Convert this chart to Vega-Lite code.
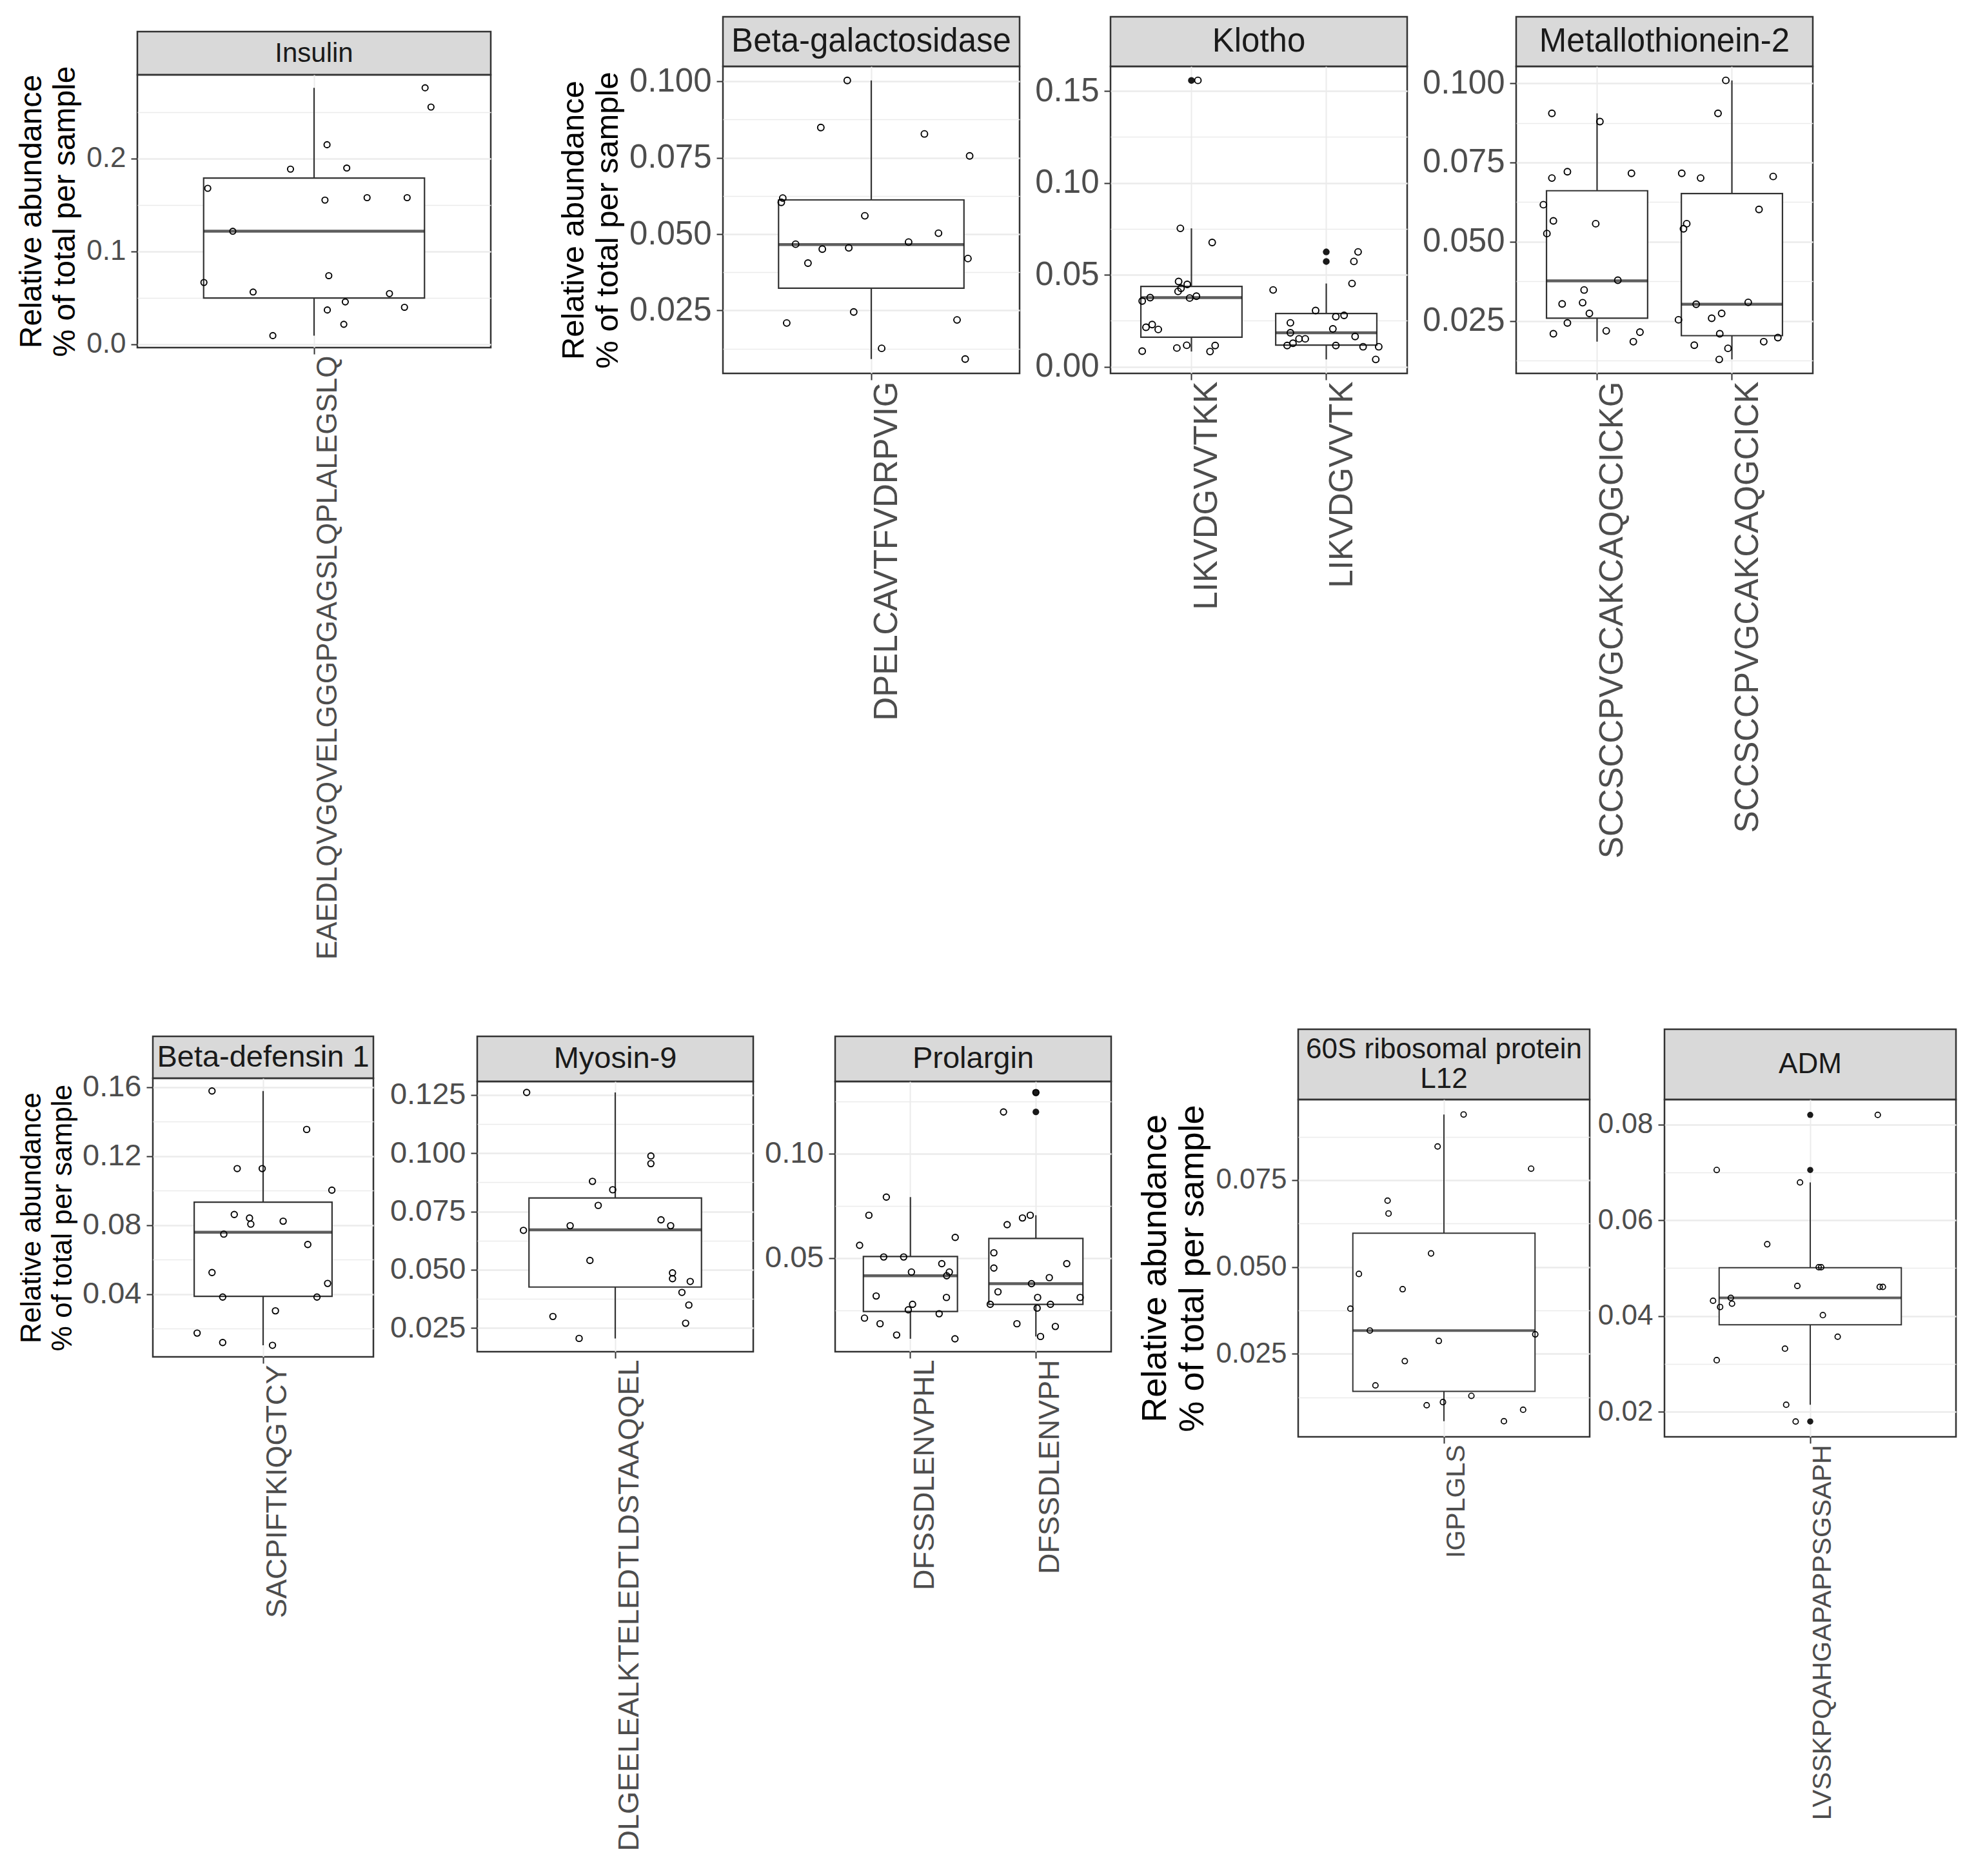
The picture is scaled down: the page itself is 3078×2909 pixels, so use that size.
{
"$schema":"https://vega.github.io/schema/vega-lite/v6.json",
"padding":{"left":5,"top":20,"right":5,"bottom":5},
"background":"#ffffff",
"config":{"font":"Liberation Sans","view":{"stroke":"#333333","strokeWidth":2.5},"axis":{"labelFont":"Liberation Sans","titleFont":"Liberation Sans"},"text":{"font":"Liberation Sans"}},
"datasets":{
"strips":[
{"p":"ins","label":"Insulin"},{"p":"bgal","label":"Beta-galactosidase"},{"p":"klo","label":"Klotho"},{"p":"met","label":"Metallothionein-2"},
{"p":"bdef","label":"Beta-defensin 1"},{"p":"myo","label":"Myosin-9"},{"p":"pro","label":"Prolargin"},{"p":"rib","label":"60S ribosomal protein\nL12"},{"p":"adm","label":"ADM"}],
"box":[
{"p":"ins","pep":"EAEDLQVGQVELGGGPGAGSLQPLALEGSLQ","lo":0.0094,"q1":0.0499,"med":0.1217,"q3":0.1789,"hi":0.276},
{"p":"bgal","pep":"DPELCAVTFVDRPVIG","lo":0.0091,"q1":0.0323,"med":0.0466,"q3":0.0612,"hi":0.1003},
{"p":"klo","pep":"LIKVDGVVTKK","lo":0.0083,"q1":0.0161,"med":0.0376,"q3":0.0437,"hi":0.0753},
{"p":"klo","pep":"LIKVDGVVTK","lo":0.0040,"q1":0.0118,"med":0.0185,"q3":0.0290,"hi":0.0453},
{"p":"met","pep":"SCCSCCPVGCAKCAQGCICKG","lo":0.0185,"q1":0.0259,"med":0.0377,"q3":0.0661,"hi":0.0905},
{"p":"met","pep":"SCCSCCPVGCAKCAQGCICK","lo":0.0129,"q1":0.0204,"med":0.0303,"q3":0.0652,"hi":0.1009},
{"p":"bdef","pep":"SACPIFTKIQGTCY","lo":0.0103,"q1":0.0387,"med":0.0759,"q3":0.0933,"hi":0.1578},
{"p":"myo","pep":"DLGEELEALKTELEDTLDSTAAQQEL","lo":0.0206,"q1":0.0426,"med":0.0671,"q3":0.0808,"hi":0.1260},
{"p":"pro","pep":"DFSSDLENVPHL","lo":0.0113,"q1":0.0244,"med":0.0415,"q3":0.0507,"hi":0.0792},
{"p":"pro","pep":"DFSSDLENVPH","lo":0.0124,"q1":0.0278,"med":0.0377,"q3":0.0594,"hi":0.0705},
{"p":"rib","pep":"IGPLGLS","lo":0.0056,"q1":0.0142,"med":0.0317,"q3":0.0597,"hi":0.0939},
{"p":"adm","pep":"LVSSKPQAHGAPAPPSGSAPH","lo":0.0215,"q1":0.0382,"med":0.0438,"q3":0.0501,"hi":0.0679}],
"out":[
{"p":"klo","pep":"LIKVDGVVTKK","v":0.1558},
{"p":"klo","pep":"LIKVDGVVTK","v":0.0625},
{"p":"klo","pep":"LIKVDGVVTK","v":0.0573},
{"p":"pro","pep":"DFSSDLENVPH","v":0.1293},
{"p":"pro","pep":"DFSSDLENVPH","v":0.1200},
{"p":"adm","pep":"LVSSKPQAHGAPAPPSGSAPH","v":0.0820},
{"p":"adm","pep":"LVSSKPQAHGAPAPPSGSAPH","v":0.0705},
{"p":"adm","pep":"LVSSKPQAHGAPAPPSGSAPH","v":0.0180}],
"pts":[
{"p":"ins","pep":"EAEDLQVGQVELGGGPGAGSLQPLALEGSLQ","v":0.276,"j":0.377},
{"p":"ins","pep":"EAEDLQVGQVELGGGPGAGSLQPLALEGSLQ","v":0.2553,"j":0.397},
{"p":"ins","pep":"EAEDLQVGQVELGGGPGAGSLQPLALEGSLQ","v":0.2148,"j":0.044},
{"p":"ins","pep":"EAEDLQVGQVELGGGPGAGSLQPLALEGSLQ","v":0.1885,"j":-0.080},
{"p":"ins","pep":"EAEDLQVGQVELGGGPGAGSLQPLALEGSLQ","v":0.1897,"j":0.111},
{"p":"ins","pep":"EAEDLQVGQVELGGGPGAGSLQPLALEGSLQ","v":0.1679,"j":-0.361},
{"p":"ins","pep":"EAEDLQVGQVELGGGPGAGSLQPLALEGSLQ","v":0.1552,"j":0.037},
{"p":"ins","pep":"EAEDLQVGQVELGGGPGAGSLQPLALEGSLQ","v":0.1578,"j":0.180},
{"p":"ins","pep":"EAEDLQVGQVELGGGPGAGSLQPLALEGSLQ","v":0.1578,"j":0.316},
{"p":"ins","pep":"EAEDLQVGQVELGGGPGAGSLQPLALEGSLQ","v":0.1217,"j":-0.276},
{"p":"ins","pep":"EAEDLQVGQVELGGGPGAGSLQPLALEGSLQ","v":0.0666,"j":-0.374},
{"p":"ins","pep":"EAEDLQVGQVELGGGPGAGSLQPLALEGSLQ","v":0.0739,"j":0.050},
{"p":"ins","pep":"EAEDLQVGQVELGGGPGAGSLQPLALEGSLQ","v":0.0563,"j":-0.207},
{"p":"ins","pep":"EAEDLQVGQVELGGGPGAGSLQPLALEGSLQ","v":0.0546,"j":0.256},
{"p":"ins","pep":"EAEDLQVGQVELGGGPGAGSLQPLALEGSLQ","v":0.0457,"j":0.106},
{"p":"ins","pep":"EAEDLQVGQVELGGGPGAGSLQPLALEGSLQ","v":0.0370,"j":0.045},
{"p":"ins","pep":"EAEDLQVGQVELGGGPGAGSLQPLALEGSLQ","v":0.0399,"j":0.307},
{"p":"ins","pep":"EAEDLQVGQVELGGGPGAGSLQPLALEGSLQ","v":0.0216,"j":0.101},
{"p":"ins","pep":"EAEDLQVGQVELGGGPGAGSLQPLALEGSLQ","v":0.0094,"j":-0.140},
{"p":"bgal","pep":"DPELCAVTFVDRPVIG","v":0.1003,"j":-0.097},
{"p":"bgal","pep":"DPELCAVTFVDRPVIG","v":0.0849,"j":-0.204},
{"p":"bgal","pep":"DPELCAVTFVDRPVIG","v":0.0828,"j":0.215},
{"p":"bgal","pep":"DPELCAVTFVDRPVIG","v":0.0756,"j":0.398},
{"p":"bgal","pep":"DPELCAVTFVDRPVIG","v":0.0618,"j":-0.358},
{"p":"bgal","pep":"DPELCAVTFVDRPVIG","v":0.0604,"j":-0.364},
{"p":"bgal","pep":"DPELCAVTFVDRPVIG","v":0.0560,"j":-0.026},
{"p":"bgal","pep":"DPELCAVTFVDRPVIG","v":0.0503,"j":0.272},
{"p":"bgal","pep":"DPELCAVTFVDRPVIG","v":0.0467,"j":-0.306},
{"p":"bgal","pep":"DPELCAVTFVDRPVIG","v":0.0474,"j":0.151},
{"p":"bgal","pep":"DPELCAVTFVDRPVIG","v":0.0451,"j":-0.198},
{"p":"bgal","pep":"DPELCAVTFVDRPVIG","v":0.0455,"j":-0.091},
{"p":"bgal","pep":"DPELCAVTFVDRPVIG","v":0.0405,"j":-0.256},
{"p":"bgal","pep":"DPELCAVTFVDRPVIG","v":0.0420,"j":0.391},
{"p":"bgal","pep":"DPELCAVTFVDRPVIG","v":0.0245,"j":-0.071},
{"p":"bgal","pep":"DPELCAVTFVDRPVIG","v":0.0209,"j":-0.342},
{"p":"bgal","pep":"DPELCAVTFVDRPVIG","v":0.0219,"j":0.347},
{"p":"bgal","pep":"DPELCAVTFVDRPVIG","v":0.0126,"j":0.042},
{"p":"bgal","pep":"DPELCAVTFVDRPVIG","v":0.0091,"j":0.380},
{"p":"klo","pep":"LIKVDGVVTKK","v":0.1558,"j":0.048},
{"p":"klo","pep":"LIKVDGVVTKK","v":0.0753,"j":-0.082},
{"p":"klo","pep":"LIKVDGVVTKK","v":0.0676,"j":0.154},
{"p":"klo","pep":"LIKVDGVVTKK","v":0.0464,"j":-0.095},
{"p":"klo","pep":"LIKVDGVVTKK","v":0.0448,"j":-0.031},
{"p":"klo","pep":"LIKVDGVVTKK","v":0.0427,"j":-0.077},
{"p":"klo","pep":"LIKVDGVVTKK","v":0.0410,"j":-0.099},
{"p":"klo","pep":"LIKVDGVVTKK","v":0.0376,"j":-0.306},
{"p":"klo","pep":"LIKVDGVVTKK","v":0.0358,"j":-0.365},
{"p":"klo","pep":"LIKVDGVVTKK","v":0.0374,"j":-0.013},
{"p":"klo","pep":"LIKVDGVVTKK","v":0.0384,"j":0.037},
{"p":"klo","pep":"LIKVDGVVTKK","v":0.0215,"j":-0.337},
{"p":"klo","pep":"LIKVDGVVTKK","v":0.0230,"j":-0.291},
{"p":"klo","pep":"LIKVDGVVTKK","v":0.0203,"j":-0.246},
{"p":"klo","pep":"LIKVDGVVTKK","v":0.0102,"j":-0.108},
{"p":"klo","pep":"LIKVDGVVTKK","v":0.0117,"j":-0.035},
{"p":"klo","pep":"LIKVDGVVTKK","v":0.0085,"j":-0.365},
{"p":"klo","pep":"LIKVDGVVTKK","v":0.0083,"j":0.138},
{"p":"klo","pep":"LIKVDGVVTKK","v":0.0116,"j":0.176},
{"p":"klo","pep":"LIKVDGVVTK","v":0.0625,"j":0.236},
{"p":"klo","pep":"LIKVDGVVTK","v":0.0573,"j":0.205},
{"p":"klo","pep":"LIKVDGVVTK","v":0.0453,"j":0.191},
{"p":"klo","pep":"LIKVDGVVTK","v":0.0418,"j":-0.394},
{"p":"klo","pep":"LIKVDGVVTK","v":0.0306,"j":-0.079},
{"p":"klo","pep":"LIKVDGVVTK","v":0.0273,"j":0.071},
{"p":"klo","pep":"LIKVDGVVTK","v":0.0280,"j":0.132},
{"p":"klo","pep":"LIKVDGVVTK","v":0.0239,"j":-0.266},
{"p":"klo","pep":"LIKVDGVVTK","v":0.0206,"j":0.049},
{"p":"klo","pep":"LIKVDGVVTK","v":0.0185,"j":-0.266},
{"p":"klo","pep":"LIKVDGVVTK","v":0.0165,"j":0.214},
{"p":"klo","pep":"LIKVDGVVTK","v":0.0152,"j":-0.202},
{"p":"klo","pep":"LIKVDGVVTK","v":0.0152,"j":-0.156},
{"p":"klo","pep":"LIKVDGVVTK","v":0.0116,"j":-0.290},
{"p":"klo","pep":"LIKVDGVVTK","v":0.0128,"j":-0.247},
{"p":"klo","pep":"LIKVDGVVTK","v":0.0116,"j":0.071},
{"p":"klo","pep":"LIKVDGVVTK","v":0.0109,"j":0.273},
{"p":"klo","pep":"LIKVDGVVTK","v":0.0109,"j":0.389},
{"p":"klo","pep":"LIKVDGVVTK","v":0.0040,"j":0.367},
{"p":"met","pep":"SCCSCCPVGCAKCAQGCICKG","v":0.0905,"j":-0.335},
{"p":"met","pep":"SCCSCCPVGCAKCAQGCICKG","v":0.0879,"j":0.021},
{"p":"met","pep":"SCCSCCPVGCAKCAQGCICKG","v":0.0721,"j":-0.220},
{"p":"met","pep":"SCCSCCPVGCAKCAQGCICKG","v":0.0701,"j":-0.335},
{"p":"met","pep":"SCCSCCPVGCAKCAQGCICKG","v":0.0716,"j":0.255},
{"p":"met","pep":"SCCSCCPVGCAKCAQGCICKG","v":0.0617,"j":-0.398},
{"p":"met","pep":"SCCSCCPVGCAKCAQGCICKG","v":0.0566,"j":-0.324},
{"p":"met","pep":"SCCSCCPVGCAKCAQGCICKG","v":0.0557,"j":-0.010},
{"p":"met","pep":"SCCSCCPVGCAKCAQGCICKG","v":0.0526,"j":-0.372},
{"p":"met","pep":"SCCSCCPVGCAKCAQGCICKG","v":0.0379,"j":0.154},
{"p":"met","pep":"SCCSCCPVGCAKCAQGCICKG","v":0.0348,"j":-0.096},
{"p":"met","pep":"SCCSCCPVGCAKCAQGCICKG","v":0.0304,"j":-0.259},
{"p":"met","pep":"SCCSCCPVGCAKCAQGCICKG","v":0.0308,"j":-0.107},
{"p":"met","pep":"SCCSCCPVGCAKCAQGCICKG","v":0.0274,"j":-0.057},
{"p":"met","pep":"SCCSCCPVGCAKCAQGCICKG","v":0.0244,"j":-0.220},
{"p":"met","pep":"SCCSCCPVGCAKCAQGCICKG","v":0.0210,"j":-0.324},
{"p":"met","pep":"SCCSCCPVGCAKCAQGCICKG","v":0.0219,"j":0.068},
{"p":"met","pep":"SCCSCCPVGCAKCAQGCICKG","v":0.0185,"j":0.269},
{"p":"met","pep":"SCCSCCPVGCAKCAQGCICKG","v":0.0215,"j":0.318},
{"p":"met","pep":"SCCSCCPVGCAKCAQGCICK","v":0.1009,"j":-0.045},
{"p":"met","pep":"SCCSCCPVGCAKCAQGCICK","v":0.0905,"j":-0.103},
{"p":"met","pep":"SCCSCCPVGCAKCAQGCICK","v":0.0716,"j":-0.372},
{"p":"met","pep":"SCCSCCPVGCAKCAQGCICK","v":0.0701,"j":-0.232},
{"p":"met","pep":"SCCSCCPVGCAKCAQGCICK","v":0.0706,"j":0.306},
{"p":"met","pep":"SCCSCCPVGCAKCAQGCICK","v":0.0602,"j":0.201},
{"p":"met","pep":"SCCSCCPVGCAKCAQGCICK","v":0.0557,"j":-0.335},
{"p":"met","pep":"SCCSCCPVGCAKCAQGCICK","v":0.0541,"j":-0.359},
{"p":"met","pep":"SCCSCCPVGCAKCAQGCICK","v":0.0303,"j":-0.265},
{"p":"met","pep":"SCCSCCPVGCAKCAQGCICK","v":0.0309,"j":0.121},
{"p":"met","pep":"SCCSCCPVGCAKCAQGCICK","v":0.0274,"j":-0.076},
{"p":"met","pep":"SCCSCCPVGCAKCAQGCICK","v":0.0259,"j":-0.150},
{"p":"met","pep":"SCCSCCPVGCAKCAQGCICK","v":0.0254,"j":-0.396},
{"p":"met","pep":"SCCSCCPVGCAKCAQGCICK","v":0.0210,"j":-0.090},
{"p":"met","pep":"SCCSCCPVGCAKCAQGCICK","v":0.0174,"j":-0.279},
{"p":"met","pep":"SCCSCCPVGCAKCAQGCICK","v":0.0164,"j":-0.029},
{"p":"met","pep":"SCCSCCPVGCAKCAQGCICK","v":0.0129,"j":-0.094},
{"p":"met","pep":"SCCSCCPVGCAKCAQGCICK","v":0.0185,"j":0.236},
{"p":"met","pep":"SCCSCCPVGCAKCAQGCICK","v":0.0198,"j":0.341},
{"p":"bdef","pep":"SACPIFTKIQGTCY","v":0.1578,"j":-0.278},
{"p":"bdef","pep":"SACPIFTKIQGTCY","v":0.1355,"j":0.237},
{"p":"bdef","pep":"SACPIFTKIQGTCY","v":0.1128,"j":-0.141},
{"p":"bdef","pep":"SACPIFTKIQGTCY","v":0.1128,"j":-0.005},
{"p":"bdef","pep":"SACPIFTKIQGTCY","v":0.1003,"j":0.374},
{"p":"bdef","pep":"SACPIFTKIQGTCY","v":0.0862,"j":-0.157},
{"p":"bdef","pep":"SACPIFTKIQGTCY","v":0.0841,"j":-0.074},
{"p":"bdef","pep":"SACPIFTKIQGTCY","v":0.0806,"j":-0.067},
{"p":"bdef","pep":"SACPIFTKIQGTCY","v":0.0823,"j":0.109},
{"p":"bdef","pep":"SACPIFTKIQGTCY","v":0.0748,"j":-0.214},
{"p":"bdef","pep":"SACPIFTKIQGTCY","v":0.0688,"j":0.243},
{"p":"bdef","pep":"SACPIFTKIQGTCY","v":0.0525,"j":-0.278},
{"p":"bdef","pep":"SACPIFTKIQGTCY","v":0.0462,"j":0.351},
{"p":"bdef","pep":"SACPIFTKIQGTCY","v":0.0383,"j":-0.220},
{"p":"bdef","pep":"SACPIFTKIQGTCY","v":0.0383,"j":0.293},
{"p":"bdef","pep":"SACPIFTKIQGTCY","v":0.0303,"j":0.067},
{"p":"bdef","pep":"SACPIFTKIQGTCY","v":0.0174,"j":-0.359},
{"p":"bdef","pep":"SACPIFTKIQGTCY","v":0.0119,"j":-0.220},
{"p":"bdef","pep":"SACPIFTKIQGTCY","v":0.0103,"j":0.051},
{"p":"myo","pep":"DLGEELEALKTELEDTLDSTAAQQEL","v":0.1260,"j":-0.385},
{"p":"myo","pep":"DLGEELEALKTELEDTLDSTAAQQEL","v":0.0988,"j":0.155},
{"p":"myo","pep":"DLGEELEALKTELEDTLDSTAAQQEL","v":0.0955,"j":0.155},
{"p":"myo","pep":"DLGEELEALKTELEDTLDSTAAQQEL","v":0.0879,"j":-0.099},
{"p":"myo","pep":"DLGEELEALKTELEDTLDSTAAQQEL","v":0.0843,"j":-0.011},
{"p":"myo","pep":"DLGEELEALKTELEDTLDSTAAQQEL","v":0.0776,"j":-0.074},
{"p":"myo","pep":"DLGEELEALKTELEDTLDSTAAQQEL","v":0.0714,"j":0.199},
{"p":"myo","pep":"DLGEELEALKTELEDTLDSTAAQQEL","v":0.0689,"j":0.241},
{"p":"myo","pep":"DLGEELEALKTELEDTLDSTAAQQEL","v":0.0689,"j":-0.196},
{"p":"myo","pep":"DLGEELEALKTELEDTLDSTAAQQEL","v":0.0669,"j":-0.399},
{"p":"myo","pep":"DLGEELEALKTELEDTLDSTAAQQEL","v":0.0540,"j":-0.110},
{"p":"myo","pep":"DLGEELEALKTELEDTLDSTAAQQEL","v":0.0487,"j":0.249},
{"p":"myo","pep":"DLGEELEALKTELEDTLDSTAAQQEL","v":0.0462,"j":0.249},
{"p":"myo","pep":"DLGEELEALKTELEDTLDSTAAQQEL","v":0.0450,"j":0.326},
{"p":"myo","pep":"DLGEELEALKTELEDTLDSTAAQQEL","v":0.0403,"j":0.290},
{"p":"myo","pep":"DLGEELEALKTELEDTLDSTAAQQEL","v":0.0349,"j":0.320},
{"p":"myo","pep":"DLGEELEALKTELEDTLDSTAAQQEL","v":0.0300,"j":-0.271},
{"p":"myo","pep":"DLGEELEALKTELEDTLDSTAAQQEL","v":0.0271,"j":0.306},
{"p":"myo","pep":"DLGEELEALKTELEDTLDSTAAQQEL","v":0.0206,"j":-0.157},
{"p":"pro","pep":"DFSSDLENVPHL","v":0.0792,"j":-0.192},
{"p":"pro","pep":"DFSSDLENVPHL","v":0.0705,"j":-0.331},
{"p":"pro","pep":"DFSSDLENVPHL","v":0.0599,"j":0.357},
{"p":"pro","pep":"DFSSDLENVPHL","v":0.0561,"j":-0.405},
{"p":"pro","pep":"DFSSDLENVPHL","v":0.0505,"j":-0.213},
{"p":"pro","pep":"DFSSDLENVPHL","v":0.0505,"j":-0.054},
{"p":"pro","pep":"DFSSDLENVPHL","v":0.0473,"j":0.250},
{"p":"pro","pep":"DFSSDLENVPHL","v":0.0433,"j":0.008},
{"p":"pro","pep":"DFSSDLENVPHL","v":0.0433,"j":0.310},
{"p":"pro","pep":"DFSSDLENVPHL","v":0.0415,"j":0.289},
{"p":"pro","pep":"DFSSDLENVPHL","v":0.0318,"j":-0.273},
{"p":"pro","pep":"DFSSDLENVPHL","v":0.0311,"j":0.287},
{"p":"pro","pep":"DFSSDLENVPHL","v":0.0278,"j":0.017},
{"p":"pro","pep":"DFSSDLENVPHL","v":0.0252,"j":-0.017},
{"p":"pro","pep":"DFSSDLENVPHL","v":0.0233,"j":0.229},
{"p":"pro","pep":"DFSSDLENVPHL","v":0.0212,"j":-0.366},
{"p":"pro","pep":"DFSSDLENVPHL","v":0.0185,"j":-0.242},
{"p":"pro","pep":"DFSSDLENVPHL","v":0.0131,"j":-0.110},
{"p":"pro","pep":"DFSSDLENVPHL","v":0.0113,"j":0.355},
{"p":"pro","pep":"DFSSDLENVPH","v":0.1293,"j":0.0},
{"p":"pro","pep":"DFSSDLENVPH","v":0.1200,"j":-0.258},
{"p":"pro","pep":"DFSSDLENVPH","v":0.0705,"j":-0.045},
{"p":"pro","pep":"DFSSDLENVPH","v":0.0692,"j":-0.107},
{"p":"pro","pep":"DFSSDLENVPH","v":0.0660,"j":-0.229},
{"p":"pro","pep":"DFSSDLENVPH","v":0.0525,"j":-0.335},
{"p":"pro","pep":"DFSSDLENVPH","v":0.0452,"j":-0.335},
{"p":"pro","pep":"DFSSDLENVPH","v":0.0473,"j":0.246},
{"p":"pro","pep":"DFSSDLENVPH","v":0.0406,"j":0.107},
{"p":"pro","pep":"DFSSDLENVPH","v":0.0377,"j":-0.035},
{"p":"pro","pep":"DFSSDLENVPH","v":0.0338,"j":-0.302},
{"p":"pro","pep":"DFSSDLENVPH","v":0.0311,"j":0.014},
{"p":"pro","pep":"DFSSDLENVPH","v":0.0311,"j":0.353},
{"p":"pro","pep":"DFSSDLENVPH","v":0.0278,"j":-0.364},
{"p":"pro","pep":"DFSSDLENVPH","v":0.0278,"j":0.116},
{"p":"pro","pep":"DFSSDLENVPH","v":0.0260,"j":0.010},
{"p":"pro","pep":"DFSSDLENVPH","v":0.0185,"j":-0.151},
{"p":"pro","pep":"DFSSDLENVPH","v":0.0172,"j":0.155},
{"p":"pro","pep":"DFSSDLENVPH","v":0.0124,"j":0.037},
{"p":"rib","pep":"IGPLGLS","v":0.0939,"j":0.081},
{"p":"rib","pep":"IGPLGLS","v":0.0847,"j":-0.026},
{"p":"rib","pep":"IGPLGLS","v":0.0783,"j":0.359},
{"p":"rib","pep":"IGPLGLS","v":0.0691,"j":-0.232},
{"p":"rib","pep":"IGPLGLS","v":0.0654,"j":-0.228},
{"p":"rib","pep":"IGPLGLS","v":0.0539,"j":-0.053},
{"p":"rib","pep":"IGPLGLS","v":0.0480,"j":-0.350},
{"p":"rib","pep":"IGPLGLS","v":0.0436,"j":-0.170},
{"p":"rib","pep":"IGPLGLS","v":0.0380,"j":-0.385},
{"p":"rib","pep":"IGPLGLS","v":0.0317,"j":-0.305},
{"p":"rib","pep":"IGPLGLS","v":0.0306,"j":0.376},
{"p":"rib","pep":"IGPLGLS","v":0.0287,"j":-0.021},
{"p":"rib","pep":"IGPLGLS","v":0.0229,"j":-0.161},
{"p":"rib","pep":"IGPLGLS","v":0.0159,"j":-0.282},
{"p":"rib","pep":"IGPLGLS","v":0.0129,"j":0.113},
{"p":"rib","pep":"IGPLGLS","v":0.0111,"j":-0.004},
{"p":"rib","pep":"IGPLGLS","v":0.0102,"j":-0.071},
{"p":"rib","pep":"IGPLGLS","v":0.0089,"j":0.326},
{"p":"rib","pep":"IGPLGLS","v":0.0056,"j":0.247},
{"p":"adm","pep":"LVSSKPQAHGAPAPPSGSAPH","v":0.0820,"j":0.278},
{"p":"adm","pep":"LVSSKPQAHGAPAPPSGSAPH","v":0.0705,"j":-0.385},
{"p":"adm","pep":"LVSSKPQAHGAPAPPSGSAPH","v":0.0679,"j":-0.042},
{"p":"adm","pep":"LVSSKPQAHGAPAPPSGSAPH","v":0.0550,"j":-0.177},
{"p":"adm","pep":"LVSSKPQAHGAPAPPSGSAPH","v":0.0502,"j":0.035},
{"p":"adm","pep":"LVSSKPQAHGAPAPPSGSAPH","v":0.0502,"j":0.045},
{"p":"adm","pep":"LVSSKPQAHGAPAPPSGSAPH","v":0.0463,"j":-0.053},
{"p":"adm","pep":"LVSSKPQAHGAPAPPSGSAPH","v":0.0461,"j":0.286},
{"p":"adm","pep":"LVSSKPQAHGAPAPPSGSAPH","v":0.0461,"j":0.299},
{"p":"adm","pep":"LVSSKPQAHGAPAPPSGSAPH","v":0.0438,"j":-0.327},
{"p":"adm","pep":"LVSSKPQAHGAPAPPSGSAPH","v":0.0432,"j":-0.400},
{"p":"adm","pep":"LVSSKPQAHGAPAPPSGSAPH","v":0.0419,"j":-0.371},
{"p":"adm","pep":"LVSSKPQAHGAPAPPSGSAPH","v":0.0426,"j":-0.322},
{"p":"adm","pep":"LVSSKPQAHGAPAPPSGSAPH","v":0.0402,"j":0.052},
{"p":"adm","pep":"LVSSKPQAHGAPAPPSGSAPH","v":0.0357,"j":0.113},
{"p":"adm","pep":"LVSSKPQAHGAPAPPSGSAPH","v":0.0332,"j":-0.104},
{"p":"adm","pep":"LVSSKPQAHGAPAPPSGSAPH","v":0.0308,"j":-0.385},
{"p":"adm","pep":"LVSSKPQAHGAPAPPSGSAPH","v":0.0215,"j":-0.099},
{"p":"adm","pep":"LVSSKPQAHGAPAPPSGSAPH","v":0.0180,"j":-0.060}]
},
"columns":1,
"spacing":101,
"resolve":{"scale":{"xOffset":"independent"}},
"concat":[
{"spacing":18,"resolve":{"scale":{"xOffset":"independent"}},"hconcat":[
 {"width":1,"height":1,"data":{"values":[{}]},"mark":{"type":"text"},"encoding":{"text":{"value":""}},"view":{"stroke":null}},
 {"spacing":101,"resolve":{"scale":{"xOffset":"independent"}},"hconcat":[
 {"spacing":0,"bounds":"flush","resolve":{"scale":{"xOffset":"independent"}},"vconcat":[
  {"width":548,"height":23,"data":{"values":[{}]},"mark":{"type":"text"},"encoding":{"text":{"value":""}},"view":{"stroke":null}},
  {"width":548,"height":67,"data":{"name":"strips"},"transform":[{"filter":"datum.p==='ins'"}],"mark":{"type":"text","fontSize":42,"color":"#1a1a1a","align":"center","baseline":"middle","lineBreak":"\n"},"encoding":{"text":{"field":"label","type":"nominal"}},"view":{"fill":"#d9d9d9","stroke":"#333333","strokeWidth":2.5}},
  {"width":548,"height":423,"layer":[
   {"data":{"name":"box"},"transform":[{"filter":"datum.p==='ins'"}],"mark":{"type":"rule","color":"#333333","strokeWidth":2.2},
    "encoding":{"x":{"field":"pep","type":"nominal","scale":{"type":"band","domain":["EAEDLQVGQVELGGGPGAGSLQPLALEGSLQ"],"paddingInner":0,"paddingOuter":0.1},"axis":{"title":null,"labelAngle":270,"labelAlign":"right","labelBaseline":"top","labelFontSize":44,"labelColor":"#4d4d4d","labelPadding":2,"labelLimit":0,"labelOverlap":false,"tickSize":10,"tickWidth":2,"tickColor":"#333333","domain":false,"grid":true,"gridColor":"#ebebeb","gridWidth":2,"bandPosition":0.5}},
    "y":{"field":"lo","type":"quantitative","scale":{"domain":[-0.0035,0.29],"nice":false,"zero":false},"axis":{"title":["Relative abundance","% of total per sample"],"values":[0,0.1,0.2],"format":".1f","labelFontSize":44,"labelColor":"#4d4d4d","labelPadding":8,"labelFlush":false,"labelOverlap":false,"tickSize":10,"tickWidth":2,"tickColor":"#333333","domain":false,"grid":true,"gridColor":"#ebebeb","gridWidth":2.5,"titleFontSize":48,"titleFontWeight":"normal","titleColor":"#000000","titlePadding":8,"titleLineHeight":52}},
    "y2":{"field":"hi"}}},
   {"data":{"name":"box"},"transform":[{"filter":"datum.p==='ins'"}],"mark":{"type":"bar","fill":"#ffffff","stroke":"#333333","strokeWidth":2.2,"width":342.5},
    "encoding":{"x":{"field":"pep","type":"nominal"},"y":{"field":"q1","type":"quantitative","axis":{"orient":"right","values":[0.05,0.15,0.25],"labels":false,"ticks":false,"domain":false,"title":null,"grid":true,"gridColor":"#ebebeb","gridWidth":1.3}},"y2":{"field":"q3"}}},
   {"data":{"name":"box"},"transform":[{"filter":"datum.p==='ins'"}],"mark":{"type":"tick","color":"#1a1a1a","thickness":4.5,"size":342.5},
    "encoding":{"x":{"field":"pep","type":"nominal"},"y":{"field":"med","type":"quantitative","axis":null}}},
   {"data":{"name":"pts"},"transform":[{"filter":"datum.p==='ins'"}],"mark":{"type":"point","shape":"circle","filled":false,"color":"#000000","strokeWidth":1.9,"size":85,"opacity":1},
    "encoding":{"x":{"field":"pep","type":"nominal"},"xOffset":{"field":"j","type":"quantitative","scale":{"domain":[-0.5,0.5],"range":[0,456.67]}},"y":{"field":"v","type":"quantitative","axis":null}}}
  ],"resolve":{"axis":{"y":"independent"}}}
 ]},
 {"spacing":20,"resolve":{"scale":{"xOffset":"independent"}},"hconcat":[
  {"spacing":0,"bounds":"flush","resolve":{"scale":{"xOffset":"independent"}},"vconcat":[
   {"width":460,"height":77,"data":{"name":"strips"},"transform":[{"filter":"datum.p==='bgal'"}],"mark":{"type":"text","fontSize":51,"color":"#1a1a1a","align":"center","baseline":"middle","lineBreak":"\n"},"encoding":{"text":{"field":"label","type":"nominal"}},"view":{"fill":"#d9d9d9","stroke":"#333333","strokeWidth":2.5}},
   {"width":460,"height":476,"layer":[
    {"data":{"name":"box"},"transform":[{"filter":"datum.p==='bgal'"}],"mark":{"type":"rule","color":"#333333","strokeWidth":2.2},
     "encoding":{"x":{"field":"pep","type":"nominal","scale":{"type":"band","domain":["DPELCAVTFVDRPVIG"],"paddingInner":0,"paddingOuter":0.1},"axis":{"title":null,"labelAngle":270,"labelAlign":"right","labelBaseline":"top","labelFontSize":51,"labelColor":"#4d4d4d","labelPadding":2,"labelLimit":0,"labelOverlap":false,"tickSize":10,"tickWidth":2,"tickColor":"#333333","domain":false,"grid":true,"gridColor":"#ebebeb","gridWidth":2,"bandPosition":0.5}},
     "y":{"field":"lo","type":"quantitative","scale":{"domain":[0.0044,0.1049],"nice":false,"zero":false},"axis":{"title":["Relative abundance","% of total per sample"],"values":[0.025,0.05,0.075,0.1],"format":".3f","labelFontSize":51,"labelColor":"#4d4d4d","labelPadding":8,"labelFlush":false,"labelOverlap":false,"tickSize":10,"tickWidth":2,"tickColor":"#333333","domain":false,"grid":true,"gridColor":"#ebebeb","gridWidth":2.5,"titleFontSize":49,"titleFontWeight":"normal","titleColor":"#000000","titlePadding":8,"titleLineHeight":53}},
     "y2":{"field":"hi"}}},
    {"data":{"name":"box"},"transform":[{"filter":"datum.p==='bgal'"}],"mark":{"type":"bar","fill":"#ffffff","stroke":"#333333","strokeWidth":2.2,"width":287.5},
     "encoding":{"x":{"field":"pep","type":"nominal"},"y":{"field":"q1","type":"quantitative","axis":{"orient":"right","values":[0.0125,0.0375,0.0625,0.0875],"labels":false,"ticks":false,"domain":false,"title":null,"grid":true,"gridColor":"#ebebeb","gridWidth":1.3}},"y2":{"field":"q3"}}},
    {"data":{"name":"box"},"transform":[{"filter":"datum.p==='bgal'"}],"mark":{"type":"tick","color":"#1a1a1a","thickness":4.5,"size":287.5},
     "encoding":{"x":{"field":"pep","type":"nominal"},"y":{"field":"med","type":"quantitative","axis":null}}},
    {"data":{"name":"pts"},"transform":[{"filter":"datum.p==='bgal'"}],"mark":{"type":"point","shape":"circle","filled":false,"color":"#000000","strokeWidth":1.9,"size":100,"opacity":1},
     "encoding":{"x":{"field":"pep","type":"nominal"},"xOffset":{"field":"j","type":"quantitative","scale":{"domain":[-0.5,0.5],"range":[0,383.33]}},"y":{"field":"v","type":"quantitative","axis":null}}}
   ],"resolve":{"axis":{"y":"independent"}}}
  ]},
  {"spacing":0,"bounds":"flush","resolve":{"scale":{"xOffset":"independent"}},"vconcat":[
   {"width":460,"height":77,"data":{"name":"strips"},"transform":[{"filter":"datum.p==='klo'"}],"mark":{"type":"text","fontSize":51,"color":"#1a1a1a","align":"center","baseline":"middle","lineBreak":"\n"},"encoding":{"text":{"field":"label","type":"nominal"}},"view":{"fill":"#d9d9d9","stroke":"#333333","strokeWidth":2.5}},
   {"width":460,"height":476,"layer":[
    {"data":{"name":"box"},"transform":[{"filter":"datum.p==='klo'"}],"mark":{"type":"rule","color":"#333333","strokeWidth":2.2},
     "encoding":{"x":{"field":"pep","type":"nominal","scale":{"type":"band","domain":["LIKVDGVVTKK","LIKVDGVVTK"],"paddingInner":0,"paddingOuter":0.1},"axis":{"title":null,"labelAngle":270,"labelAlign":"right","labelBaseline":"top","labelFontSize":51,"labelColor":"#4d4d4d","labelPadding":2,"labelLimit":0,"labelOverlap":false,"tickSize":10,"tickWidth":2,"tickColor":"#333333","domain":false,"grid":true,"gridColor":"#ebebeb","gridWidth":2,"bandPosition":0.5}},
     "y":{"field":"lo","type":"quantitative","scale":{"domain":[-0.0036,0.1634],"nice":false,"zero":false},"axis":{"title":null,"values":[0,0.05,0.1,0.15],"format":".2f","labelFontSize":51,"labelColor":"#4d4d4d","labelPadding":8,"labelFlush":false,"labelOverlap":false,"tickSize":10,"tickWidth":2,"tickColor":"#333333","domain":false,"grid":true,"gridColor":"#ebebeb","gridWidth":2.5}},
     "y2":{"field":"hi"}}},
    {"data":{"name":"box"},"transform":[{"filter":"datum.p==='klo'"}],"mark":{"type":"bar","fill":"#ffffff","stroke":"#333333","strokeWidth":2.2,"width":156.8},
     "encoding":{"x":{"field":"pep","type":"nominal"},"y":{"field":"q1","type":"quantitative","axis":{"orient":"right","values":[0.025,0.075,0.125],"labels":false,"ticks":false,"domain":false,"title":null,"grid":true,"gridColor":"#ebebeb","gridWidth":1.3}},"y2":{"field":"q3"}}},
    {"data":{"name":"box"},"transform":[{"filter":"datum.p==='klo'"}],"mark":{"type":"tick","color":"#1a1a1a","thickness":4.5,"size":156.8},
     "encoding":{"x":{"field":"pep","type":"nominal"},"y":{"field":"med","type":"quantitative","axis":null}}},
    {"data":{"name":"out"},"transform":[{"filter":"datum.p==='klo'"}],"mark":{"type":"point","shape":"circle","filled":true,"color":"#1a1a1a","size":110,"opacity":1},
     "encoding":{"x":{"field":"pep","type":"nominal"},"y":{"field":"v","type":"quantitative","axis":null}}},
    {"data":{"name":"pts"},"transform":[{"filter":"datum.p==='klo'"}],"mark":{"type":"point","shape":"circle","filled":false,"color":"#000000","strokeWidth":1.9,"size":100,"opacity":1},
     "encoding":{"x":{"field":"pep","type":"nominal"},"xOffset":{"field":"j","type":"quantitative","scale":{"domain":[-0.5,0.5],"range":[0,209.09]}},"y":{"field":"v","type":"quantitative","axis":null}}}
   ],"resolve":{"axis":{"y":"independent"}}}
  ]},
  {"spacing":0,"bounds":"flush","resolve":{"scale":{"xOffset":"independent"}},"vconcat":[
   {"width":460,"height":77,"data":{"name":"strips"},"transform":[{"filter":"datum.p==='met'"}],"mark":{"type":"text","fontSize":51,"color":"#1a1a1a","align":"center","baseline":"middle","lineBreak":"\n"},"encoding":{"text":{"field":"label","type":"nominal"}},"view":{"fill":"#d9d9d9","stroke":"#333333","strokeWidth":2.5}},
   {"width":460,"height":476,"layer":[
    {"data":{"name":"box"},"transform":[{"filter":"datum.p==='met'"}],"mark":{"type":"rule","color":"#333333","strokeWidth":2.2},
     "encoding":{"x":{"field":"pep","type":"nominal","scale":{"type":"band","domain":["SCCSCCPVGCAKCAQGCICKG","SCCSCCPVGCAKCAQGCICK"],"paddingInner":0,"paddingOuter":0.1},"axis":{"title":null,"labelAngle":270,"labelAlign":"right","labelBaseline":"top","labelFontSize":51,"labelColor":"#4d4d4d","labelPadding":2,"labelLimit":0,"labelOverlap":false,"tickSize":10,"tickWidth":2,"tickColor":"#333333","domain":false,"grid":true,"gridColor":"#ebebeb","gridWidth":2,"bandPosition":0.5}},
     "y":{"field":"lo","type":"quantitative","scale":{"domain":[0.0085,0.1053],"nice":false,"zero":false},"axis":{"title":null,"values":[0.025,0.05,0.075,0.1],"format":".3f","labelFontSize":51,"labelColor":"#4d4d4d","labelPadding":8,"labelFlush":false,"labelOverlap":false,"tickSize":10,"tickWidth":2,"tickColor":"#333333","domain":false,"grid":true,"gridColor":"#ebebeb","gridWidth":2.5}},
     "y2":{"field":"hi"}}},
    {"data":{"name":"box"},"transform":[{"filter":"datum.p==='met'"}],"mark":{"type":"bar","fill":"#ffffff","stroke":"#333333","strokeWidth":2.2,"width":156.8},
     "encoding":{"x":{"field":"pep","type":"nominal"},"y":{"field":"q1","type":"quantitative","axis":{"orient":"right","values":[0.0125,0.0375,0.0625,0.0875],"labels":false,"ticks":false,"domain":false,"title":null,"grid":true,"gridColor":"#ebebeb","gridWidth":1.3}},"y2":{"field":"q3"}}},
    {"data":{"name":"box"},"transform":[{"filter":"datum.p==='met'"}],"mark":{"type":"tick","color":"#1a1a1a","thickness":4.5,"size":156.8},
     "encoding":{"x":{"field":"pep","type":"nominal"},"y":{"field":"med","type":"quantitative","axis":null}}},
    {"data":{"name":"pts"},"transform":[{"filter":"datum.p==='met'"}],"mark":{"type":"point","shape":"circle","filled":false,"color":"#000000","strokeWidth":1.9,"size":100,"opacity":1},
     "encoding":{"x":{"field":"pep","type":"nominal"},"xOffset":{"field":"j","type":"quantitative","scale":{"domain":[-0.5,0.5],"range":[0,209.09]}},"y":{"field":"v","type":"quantitative","axis":null}}}
   ],"resolve":{"axis":{"y":"independent"}}}
  ]}
 ]}
 ]}
]},
{"spacing":20,"resolve":{"scale":{"xOffset":"independent"}},"hconcat":[
 {"width":1,"height":1,"data":{"values":[{}]},"mark":{"type":"text"},"encoding":{"text":{"value":""}},"view":{"stroke":null}},
 {"spacing":38,"resolve":{"scale":{"xOffset":"independent"}},"hconcat":[
 {"spacing":0,"bounds":"flush","resolve":{"scale":{"xOffset":"independent"}},"vconcat":[
  {"width":10,"height":11,"data":{"values":[{}]},"mark":{"type":"text"},"encoding":{"text":{"value":""}},"view":{"stroke":null}},
  {"spacing":22,"resolve":{"scale":{"xOffset":"independent"}},"hconcat":[
   {"spacing":0,"bounds":"flush","resolve":{"scale":{"xOffset":"independent"}},"vconcat":[
    {"width":342,"height":65,"data":{"name":"strips"},"transform":[{"filter":"datum.p==='bdef'"}],"mark":{"type":"text","fontSize":47,"color":"#1a1a1a","align":"center","baseline":"middle","lineBreak":"\n"},"encoding":{"text":{"field":"label","type":"nominal"}},"view":{"fill":"#d9d9d9","stroke":"#333333","strokeWidth":2.5}},
    {"width":342,"height":432,"layer":[
     {"data":{"name":"box"},"transform":[{"filter":"datum.p==='bdef'"}],"mark":{"type":"rule","color":"#333333","strokeWidth":2.2},
      "encoding":{"x":{"field":"pep","type":"nominal","scale":{"type":"band","domain":["SACPIFTKIQGTCY"],"paddingInner":0,"paddingOuter":0.1},"axis":{"title":null,"labelAngle":270,"labelAlign":"right","labelBaseline":"top","labelFontSize":45,"labelColor":"#4d4d4d","labelPadding":2,"labelLimit":0,"labelOverlap":false,"tickSize":10,"tickWidth":2,"tickColor":"#333333","domain":false,"grid":true,"gridColor":"#ebebeb","gridWidth":2,"bandPosition":0.5}},
      "y":{"field":"lo","type":"quantitative","scale":{"domain":[0.0036,0.1652],"nice":false,"zero":false},"axis":{"title":["Relative abundance","% of total per sample"],"values":[0.04,0.08,0.12,0.16],"format":".2f","labelFontSize":47,"labelColor":"#4d4d4d","labelPadding":8,"labelFlush":false,"labelOverlap":false,"tickSize":10,"tickWidth":2,"tickColor":"#333333","domain":false,"grid":true,"gridColor":"#ebebeb","gridWidth":2.5,"titleFontSize":44,"titleFontWeight":"normal","titleColor":"#000000","titlePadding":8,"titleLineHeight":48}},
      "y2":{"field":"hi"}}},
     {"data":{"name":"box"},"transform":[{"filter":"datum.p==='bdef'"}],"mark":{"type":"bar","fill":"#ffffff","stroke":"#333333","strokeWidth":2.2,"width":213.75},
      "encoding":{"x":{"field":"pep","type":"nominal"},"y":{"field":"q1","type":"quantitative","axis":{"orient":"right","values":[0.02,0.06,0.1,0.14],"labels":false,"ticks":false,"domain":false,"title":null,"grid":true,"gridColor":"#ebebeb","gridWidth":1.3}},"y2":{"field":"q3"}}},
     {"data":{"name":"box"},"transform":[{"filter":"datum.p==='bdef'"}],"mark":{"type":"tick","color":"#1a1a1a","thickness":4.5,"size":213.75},
      "encoding":{"x":{"field":"pep","type":"nominal"},"y":{"field":"med","type":"quantitative","axis":null}}},
     {"data":{"name":"pts"},"transform":[{"filter":"datum.p==='bdef'"}],"mark":{"type":"point","shape":"circle","filled":false,"color":"#000000","strokeWidth":1.9,"size":90,"opacity":1},
      "encoding":{"x":{"field":"pep","type":"nominal"},"xOffset":{"field":"j","type":"quantitative","scale":{"domain":[-0.5,0.5],"range":[0,285]}},"y":{"field":"v","type":"quantitative","axis":null}}}
    ],"resolve":{"axis":{"y":"independent"}}}
   ]},
   {"spacing":14,"resolve":{"scale":{"xOffset":"independent"}},"hconcat":[
   {"spacing":0,"bounds":"flush","resolve":{"scale":{"xOffset":"independent"}},"vconcat":[
    {"width":428,"height":70,"data":{"name":"strips"},"transform":[{"filter":"datum.p==='myo'"}],"mark":{"type":"text","fontSize":47,"color":"#1a1a1a","align":"center","baseline":"middle","lineBreak":"\n"},"encoding":{"text":{"field":"label","type":"nominal"}},"view":{"fill":"#d9d9d9","stroke":"#333333","strokeWidth":2.5}},
    {"width":428,"height":419,"layer":[
     {"data":{"name":"box"},"transform":[{"filter":"datum.p==='myo'"}],"mark":{"type":"rule","color":"#333333","strokeWidth":2.2},
      "encoding":{"x":{"field":"pep","type":"nominal","scale":{"type":"band","domain":["DLGEELEALKTELEDTLDSTAAQQEL"],"paddingInner":0,"paddingOuter":0.1},"axis":{"title":null,"labelAngle":270,"labelAlign":"right","labelBaseline":"top","labelFontSize":45,"labelColor":"#4d4d4d","labelPadding":2,"labelLimit":0,"labelOverlap":false,"tickSize":10,"tickWidth":2,"tickColor":"#333333","domain":false,"grid":true,"gridColor":"#ebebeb","gridWidth":2,"bandPosition":0.5}},
      "y":{"field":"lo","type":"quantitative","scale":{"domain":[0.0149,0.1307],"nice":false,"zero":false},"axis":{"title":null,"values":[0.025,0.05,0.075,0.1,0.125],"format":".3f","labelFontSize":47,"labelColor":"#4d4d4d","labelPadding":8,"labelFlush":false,"labelOverlap":false,"tickSize":10,"tickWidth":2,"tickColor":"#333333","domain":false,"grid":true,"gridColor":"#ebebeb","gridWidth":2.5}},
      "y2":{"field":"hi"}}},
     {"data":{"name":"box"},"transform":[{"filter":"datum.p==='myo'"}],"mark":{"type":"bar","fill":"#ffffff","stroke":"#333333","strokeWidth":2.2,"width":267.5},
      "encoding":{"x":{"field":"pep","type":"nominal"},"y":{"field":"q1","type":"quantitative","axis":{"orient":"right","values":[0.0375,0.0625,0.0875,0.1125],"labels":false,"ticks":false,"domain":false,"title":null,"grid":true,"gridColor":"#ebebeb","gridWidth":1.3}},"y2":{"field":"q3"}}},
     {"data":{"name":"box"},"transform":[{"filter":"datum.p==='myo'"}],"mark":{"type":"tick","color":"#1a1a1a","thickness":4.5,"size":267.5},
      "encoding":{"x":{"field":"pep","type":"nominal"},"y":{"field":"med","type":"quantitative","axis":null}}},
     {"data":{"name":"pts"},"transform":[{"filter":"datum.p==='myo'"}],"mark":{"type":"point","shape":"circle","filled":false,"color":"#000000","strokeWidth":1.9,"size":90,"opacity":1},
      "encoding":{"x":{"field":"pep","type":"nominal"},"xOffset":{"field":"j","type":"quantitative","scale":{"domain":[-0.5,0.5],"range":[0,356.67]}},"y":{"field":"v","type":"quantitative","axis":null}}}
    ],"resolve":{"axis":{"y":"independent"}}}
   ]},
   {"spacing":0,"bounds":"flush","resolve":{"scale":{"xOffset":"independent"}},"vconcat":[
    {"width":428,"height":70,"data":{"name":"strips"},"transform":[{"filter":"datum.p==='pro'"}],"mark":{"type":"text","fontSize":47,"color":"#1a1a1a","align":"center","baseline":"middle","lineBreak":"\n"},"encoding":{"text":{"field":"label","type":"nominal"}},"view":{"fill":"#d9d9d9","stroke":"#333333","strokeWidth":2.5}},
    {"width":428,"height":419,"layer":[
     {"data":{"name":"box"},"transform":[{"filter":"datum.p==='pro'"}],"mark":{"type":"rule","color":"#333333","strokeWidth":2.2},
      "encoding":{"x":{"field":"pep","type":"nominal","scale":{"type":"band","domain":["DFSSDLENVPHL","DFSSDLENVPH"],"paddingInner":0,"paddingOuter":0.1},"axis":{"title":null,"labelAngle":270,"labelAlign":"right","labelBaseline":"top","labelFontSize":45,"labelColor":"#4d4d4d","labelPadding":2,"labelLimit":0,"labelOverlap":false,"tickSize":10,"tickWidth":2,"tickColor":"#333333","domain":false,"grid":true,"gridColor":"#ebebeb","gridWidth":2,"bandPosition":0.5}},
      "y":{"field":"lo","type":"quantitative","scale":{"domain":[0.0051,0.1346],"nice":false,"zero":false},"axis":{"title":null,"values":[0.05,0.1],"format":".2f","labelFontSize":47,"labelColor":"#4d4d4d","labelPadding":8,"labelFlush":false,"labelOverlap":false,"tickSize":10,"tickWidth":2,"tickColor":"#333333","domain":false,"grid":true,"gridColor":"#ebebeb","gridWidth":2.5}},
      "y2":{"field":"hi"}}},
     {"data":{"name":"box"},"transform":[{"filter":"datum.p==='pro'"}],"mark":{"type":"bar","fill":"#ffffff","stroke":"#333333","strokeWidth":2.2,"width":145.9},
      "encoding":{"x":{"field":"pep","type":"nominal"},"y":{"field":"q1","type":"quantitative","axis":{"orient":"right","values":[0.025,0.075,0.125],"labels":false,"ticks":false,"domain":false,"title":null,"grid":true,"gridColor":"#ebebeb","gridWidth":1.3}},"y2":{"field":"q3"}}},
     {"data":{"name":"box"},"transform":[{"filter":"datum.p==='pro'"}],"mark":{"type":"tick","color":"#1a1a1a","thickness":4.5,"size":145.9},
      "encoding":{"x":{"field":"pep","type":"nominal"},"y":{"field":"med","type":"quantitative","axis":null}}},
     {"data":{"name":"out"},"transform":[{"filter":"datum.p==='pro'"}],"mark":{"type":"point","shape":"circle","filled":true,"color":"#1a1a1a","size":105,"opacity":1},
      "encoding":{"x":{"field":"pep","type":"nominal"},"y":{"field":"v","type":"quantitative","axis":null}}},
     {"data":{"name":"pts"},"transform":[{"filter":"datum.p==='pro'"}],"mark":{"type":"point","shape":"circle","filled":false,"color":"#000000","strokeWidth":1.9,"size":90,"opacity":1},
      "encoding":{"x":{"field":"pep","type":"nominal"},"xOffset":{"field":"j","type":"quantitative","scale":{"domain":[-0.5,0.5],"range":[0,194.55]}},"y":{"field":"v","type":"quantitative","axis":null}}}
    ],"resolve":{"axis":{"y":"independent"}}}
   ]}
   ]}
  ]}
 ]},
 {"spacing":9,"resolve":{"scale":{"xOffset":"independent"}},"hconcat":[
  {"spacing":0,"bounds":"flush","resolve":{"scale":{"xOffset":"independent"}},"vconcat":[
   {"width":452,"height":109,"data":{"name":"strips"},"transform":[{"filter":"datum.p==='rib'"}],"mark":{"type":"text","fontSize":44,"lineHeight":46,"dy":-23,"color":"#1a1a1a","align":"center","baseline":"middle","lineBreak":"\n"},"encoding":{"text":{"field":"label","type":"nominal"}},"view":{"fill":"#d9d9d9","stroke":"#333333","strokeWidth":2.5}},
   {"width":452,"height":523,"layer":[
    {"data":{"name":"box"},"transform":[{"filter":"datum.p==='rib'"}],"mark":{"type":"rule","color":"#333333","strokeWidth":2},
     "encoding":{"x":{"field":"pep","type":"nominal","scale":{"type":"band","domain":["IGPLGLS"],"paddingInner":0,"paddingOuter":0.1},"axis":{"title":null,"labelAngle":270,"labelAlign":"right","labelBaseline":"top","labelFontSize":41,"labelColor":"#4d4d4d","labelPadding":2,"labelLimit":0,"labelOverlap":false,"tickSize":10,"tickWidth":2,"tickColor":"#333333","domain":false,"grid":true,"gridColor":"#ebebeb","gridWidth":2,"bandPosition":0.5}},
     "y":{"field":"lo","type":"quantitative","scale":{"domain":[0.0011,0.0982],"nice":false,"zero":false},"axis":{"title":["Relative abundance","% of total per sample"],"values":[0.025,0.05,0.075],"format":".3f","labelFontSize":44,"labelColor":"#4d4d4d","labelPadding":8,"labelFlush":false,"labelOverlap":false,"tickSize":10,"tickWidth":2,"tickColor":"#333333","domain":false,"grid":true,"gridColor":"#ebebeb","gridWidth":2.5,"titleFontSize":54,"titleFontWeight":"normal","titleColor":"#000000","titlePadding":8,"titleLineHeight":58}},
     "y2":{"field":"hi"}}},
    {"data":{"name":"box"},"transform":[{"filter":"datum.p==='rib'"}],"mark":{"type":"bar","fill":"#ffffff","stroke":"#333333","strokeWidth":2,"width":282.5},
     "encoding":{"x":{"field":"pep","type":"nominal"},"y":{"field":"q1","type":"quantitative","axis":{"orient":"right","values":[0.0125,0.0375,0.0625,0.0875],"labels":false,"ticks":false,"domain":false,"title":null,"grid":true,"gridColor":"#ebebeb","gridWidth":1.3}},"y2":{"field":"q3"}}},
    {"data":{"name":"box"},"transform":[{"filter":"datum.p==='rib'"}],"mark":{"type":"tick","color":"#1a1a1a","thickness":4,"size":282.5},
     "encoding":{"x":{"field":"pep","type":"nominal"},"y":{"field":"med","type":"quantitative","axis":null}}},
    {"data":{"name":"pts"},"transform":[{"filter":"datum.p==='rib'"}],"mark":{"type":"point","shape":"circle","filled":false,"color":"#000000","strokeWidth":1.7,"size":70,"opacity":1},
     "encoding":{"x":{"field":"pep","type":"nominal"},"xOffset":{"field":"j","type":"quantitative","scale":{"domain":[-0.5,0.5],"range":[0,376.67]}},"y":{"field":"v","type":"quantitative","axis":null}}}
   ],"resolve":{"axis":{"y":"independent"}}}
  ]},
  {"spacing":0,"bounds":"flush","resolve":{"scale":{"xOffset":"independent"}},"vconcat":[
   {"width":452,"height":109,"data":{"name":"strips"},"transform":[{"filter":"datum.p==='adm'"}],"mark":{"type":"text","fontSize":44,"color":"#1a1a1a","align":"center","baseline":"middle","lineBreak":"\n"},"encoding":{"text":{"field":"label","type":"nominal"}},"view":{"fill":"#d9d9d9","stroke":"#333333","strokeWidth":2.5}},
   {"width":452,"height":523,"layer":[
    {"data":{"name":"box"},"transform":[{"filter":"datum.p==='adm'"}],"mark":{"type":"rule","color":"#333333","strokeWidth":2},
     "encoding":{"x":{"field":"pep","type":"nominal","scale":{"type":"band","domain":["LVSSKPQAHGAPAPPSGSAPH"],"paddingInner":0,"paddingOuter":0.1},"axis":{"title":null,"labelAngle":270,"labelAlign":"right","labelBaseline":"top","labelFontSize":41,"labelColor":"#4d4d4d","labelPadding":2,"labelLimit":0,"labelOverlap":false,"tickSize":10,"tickWidth":2,"tickColor":"#333333","domain":false,"grid":true,"gridColor":"#ebebeb","gridWidth":2,"bandPosition":0.5}},
     "y":{"field":"lo","type":"quantitative","scale":{"domain":[0.0148,0.0852],"nice":false,"zero":false},"axis":{"title":null,"values":[0.02,0.04,0.06,0.08],"format":".2f","labelFontSize":44,"labelColor":"#4d4d4d","labelPadding":8,"labelFlush":false,"labelOverlap":false,"tickSize":10,"tickWidth":2,"tickColor":"#333333","domain":false,"grid":true,"gridColor":"#ebebeb","gridWidth":2.5}},
     "y2":{"field":"hi"}}},
    {"data":{"name":"box"},"transform":[{"filter":"datum.p==='adm'"}],"mark":{"type":"bar","fill":"#ffffff","stroke":"#333333","strokeWidth":2,"width":282.5},
     "encoding":{"x":{"field":"pep","type":"nominal"},"y":{"field":"q1","type":"quantitative","axis":{"orient":"right","values":[0.03,0.05,0.07],"labels":false,"ticks":false,"domain":false,"title":null,"grid":true,"gridColor":"#ebebeb","gridWidth":1.3}},"y2":{"field":"q3"}}},
    {"data":{"name":"box"},"transform":[{"filter":"datum.p==='adm'"}],"mark":{"type":"tick","color":"#1a1a1a","thickness":4,"size":282.5},
     "encoding":{"x":{"field":"pep","type":"nominal"},"y":{"field":"med","type":"quantitative","axis":null}}},
    {"data":{"name":"out"},"transform":[{"filter":"datum.p==='adm'"}],"mark":{"type":"point","shape":"circle","filled":true,"color":"#1a1a1a","size":90,"opacity":1},
     "encoding":{"x":{"field":"pep","type":"nominal"},"y":{"field":"v","type":"quantitative","axis":null}}},
    {"data":{"name":"pts"},"transform":[{"filter":"datum.p==='adm'"}],"mark":{"type":"point","shape":"circle","filled":false,"color":"#000000","strokeWidth":1.7,"size":70,"opacity":1},
     "encoding":{"x":{"field":"pep","type":"nominal"},"xOffset":{"field":"j","type":"quantitative","scale":{"domain":[-0.5,0.5],"range":[0,376.67]}},"y":{"field":"v","type":"quantitative","axis":null}}}
   ],"resolve":{"axis":{"y":"independent"}}}
  ]}
 ]}
 ]}
]}
]
}
